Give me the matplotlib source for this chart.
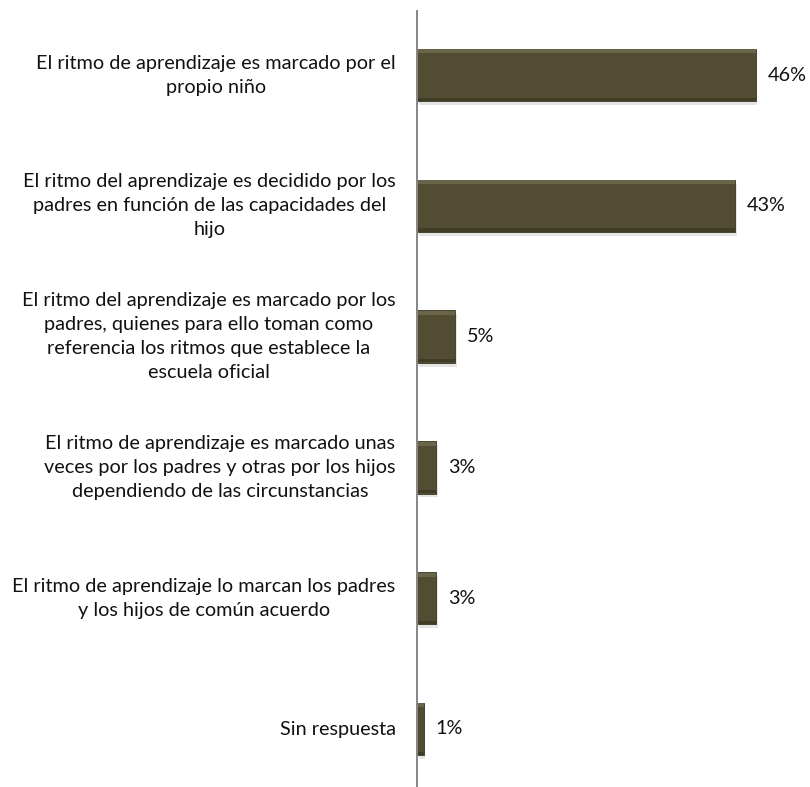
import numpy as np
import matplotlib
matplotlib.use("Agg")
import matplotlib.pyplot as plt

# =========================
# DATOS
# =========================
categorias = [
    "El ritmo de aprendizaje es marcado por el\npropio niño",
    "El ritmo del aprendizaje es decidido por los\npadres en función de las capacidades del\nhijo",
    "El ritmo del aprendizaje es marcado por los\npadres, quienes para ello toman como\nreferencia los ritmos que establece la\nescuela oficial",
    "El ritmo de aprendizaje es marcado unas\nveces por los padres y otras por los hijos\ndependiendo de las circunstancias",
    "El ritmo de aprendizaje lo marcan los padres\ny los hijos de común acuerdo",
    "Sin respuesta",
]
valores = [46.2, 43.4, 5.2, 2.6, 2.6, 0.9]
etiquetas = ["46%", "43%", "5%", "3%", "3%", "1%"]

# =========================
# ESTILO
# =========================
plt.rcParams["font.family"] = ["Lato", "DejaVu Sans"]
color_barra = "#514c32"
color_claro = "#757052"
color_oscuro = "#3a3622"

fig = plt.figure(figsize=(8.1, 7.87), dpi=100)
ax = fig.add_axes([417 / 810, 0.0, (800 - 417) / 810, 1 - 11 / 787])

y = np.arange(len(categorias))
alto = 0.40

# sombra
ax.barh(y + 0.03, valores, height=alto, left=0.25, color="#000000", alpha=0.10, zorder=1)
# barra principal
ax.barh(y, valores, height=alto, color=color_barra, edgecolor=color_oscuro, linewidth=0.6, zorder=2)
# bisel claro superior
ax.barh(y - alto / 2 + 0.02, valores, height=0.03, color=color_claro, alpha=0.7, zorder=3)
# bisel oscuro inferior
ax.barh(y + alto / 2 - 0.015, valores, height=0.025, color=color_oscuro, alpha=0.7, zorder=3)

for yi, v, t in zip(y, valores, etiquetas):
    ax.text(v + 1.6, yi, t, va="center", ha="left", fontsize=14.3, color="#111111")

for yi, c in zip(y, categorias):
    ax.text(-2.9, yi, c, va="center", ha="right", multialignment="center",
            fontsize=14.3, color="#111111", linespacing=1.5)

ax.set_xlim(0, (800 - 417) / 7.33)
ax.set_ylim(5 + (787 - 729) / 130.8, -(75 - 11) / 130.8)

ax.set_xticks([])
ax.set_yticks([])
for lado in ["top", "right", "bottom"]:
    ax.spines[lado].set_visible(False)
ax.spines["left"].set_color("#868686")
ax.spines["left"].set_linewidth(1.4)
ax.spines["left"].set_zorder(5)

fig.savefig("out.png", dpi=100, facecolor="white")
